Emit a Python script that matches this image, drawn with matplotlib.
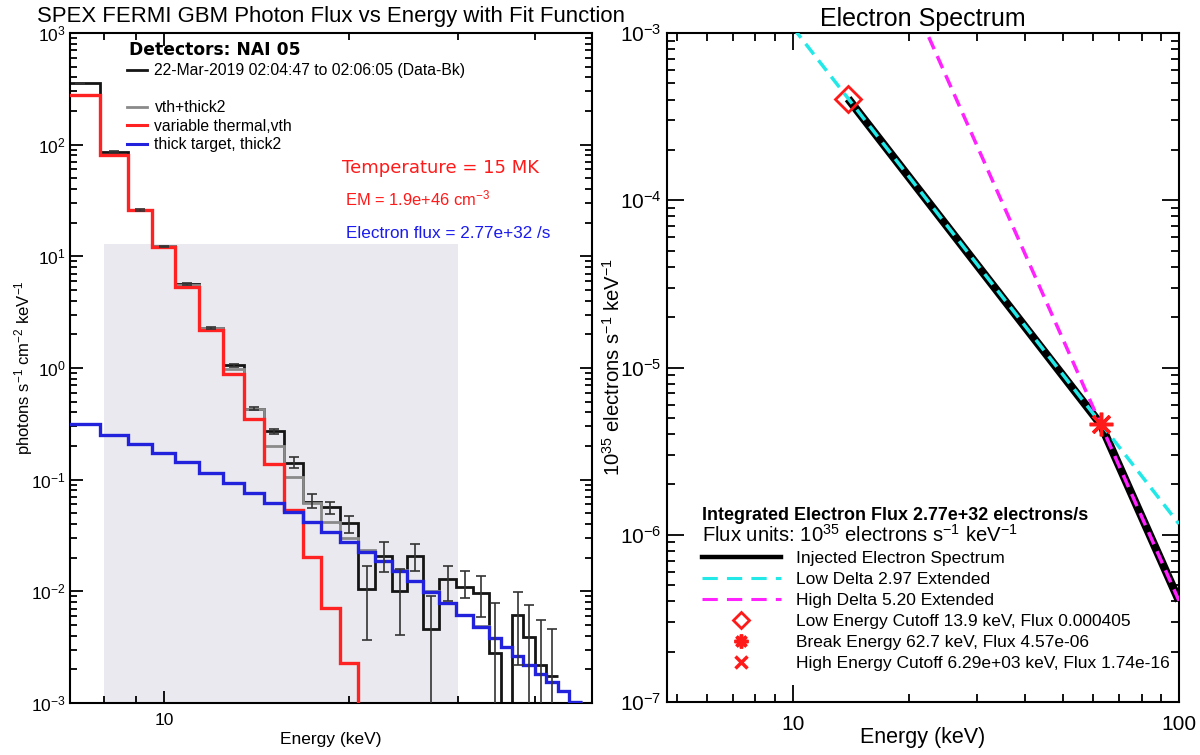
import numpy as np
import matplotlib
matplotlib.use("Agg")
import matplotlib.pyplot as plt
from matplotlib.lines import Line2D
from matplotlib.ticker import FixedLocator, FixedFormatter, NullFormatter, LogLocator

plt.rcParams["font.family"] = ["Liberation Sans", "DejaVu Sans"]
plt.rcParams["mathtext.default"] = "regular"
plt.rcParams["axes.unicode_minus"] = False

# ---------------- left panel: photon spectrum (keV bins) ----------------
edges = [6.8, 7.88, 8.73, 9.58, 10.44, 11.40, 12.47, 13.49, 14.55, 15.68,
         16.80, 17.98, 19.29, 20.67, 22.04, 23.42, 24.83, 26.29, 27.95, 29.79,
         31.74, 33.70, 35.25, 36.73, 38.27, 40.03, 41.70, 43.61, 45.45, 47.71]

# data - background (values below 1e-3 are off the plot)
data = [355, 86.5, 26.0, 12.3, 5.66, 2.28, 1.06, 0.433, 0.27, 0.141,
        0.0637, 0.0567, 0.0407, 0.0105, 0.0208, 0.0100, 0.0208, 0.00459, 0.01285, 0.01104,
        0.00975, 0.0028, 1e-5, 0.0062, 0.00393, 0.0022, 0.00174]
data_lo = [350, 85.5, 25.7, 12.15, 5.58, 2.24, 1.03, 0.42, 0.257, 0.126,
           0.056, 0.0497, 0.0335, 0.00366, 0.0148, 0.0041, 0.0153, 1e-5, 0.0082, 0.0088,
           0.00593, 1e-5, 1e-5, 0.0022, 1e-5, 1e-5, 1e-5]
data_hi = [360, 87.5, 26.3, 12.45, 5.74, 2.32, 1.09, 0.446, 0.283, 0.158,
           0.074, 0.0637, 0.047, 0.0167, 0.0276, 0.016, 0.0265, 0.0091, 0.0167, 0.0151,
           0.0138, 0.00784, 1e-5, 0.00996, 0.0076, 0.0055, 0.0046]

vth = [279, 81, 26.0, 12.2, 5.35, 2.19, 0.885, 0.35, 0.138, 0.0537,
       0.0202, 0.00716, 0.00228, 6e-4]
thick2 = [0.316, 0.252, 0.208, 0.173, 0.143, 0.114, 0.0935, 0.0757, 0.0624, 0.0512,
          0.0422, 0.0343, 0.0279, 0.0227, 0.0185, 0.0153, 0.0125, 0.00996, 0.00784, 0.00616,
          0.00484, 0.00381, 0.00316, 0.00261, 0.00220, 0.00183, 0.00153, 0.00127, 0.00103]
total = [279, 81.3, 26.2, 12.4, 5.49, 2.30, 0.98, 0.426, 0.200, 0.105,
         0.0624, 0.0415, 0.0302, 0.0233, 0.0187, 0.0154, 0.0125, 0.0100, 0.00785, 0.00617,
         0.00485, 0.00381, 0.00316, 0.00261, 0.00220, 0.00183, 0.00153, 0.00127, 0.00103]

fit_range = [8.0, 30.0]
fit_top = 12.9

# ---------------- right panel: electron spectrum ----------------
inj_e = [13.9, 62.7, 100.0]
inj_f = [4.05e-4, 4.57e-6, 4.03e-7]
low_ext_e = [10.0, 100.0]
low_ext_f = [1.08e-3, 1.16e-6]
high_ext_e = [10.0, 100.0]
high_ext_f = [6.4e-2, 4.03e-7]
cutoff_low = (13.9, 4.05e-4)
break_pt = (62.7, 4.57e-6)
cutoff_high = (6290.0, 1.74e-16)

W, H = 1200, 755
fig = plt.figure(figsize=(12, 7.55), dpi=100)


def fx(px):
    return px / W


def fy(py):
    return 1 - py / H


ax1 = fig.add_axes([fx(70), fy(703), fx(592) - fx(70), fy(33) - fy(703)])
ax2 = fig.add_axes([fx(667), fy(702), fx(1179) - fx(667), fy(33) - fy(702)])

# ----- left -----
ed = np.array(edges)
ax1.fill_between(fit_range, 1e-3, fit_top, color="#e9e9ef", lw=0, zorder=0)
ax1.stairs(data, ed[:len(data) + 1], baseline=None, color="#151515", lw=2.0, zorder=2)
ax1.stairs(total, ed, baseline=None, color="#8a8a8a", lw=2.0, zorder=3)
ax1.stairs(vth, ed[:len(vth) + 1], baseline=None, color="#ff2222", lw=2.4, zorder=4)
ax1.stairs(thick2, ed, baseline=None, color="#2222dd", lw=2.4, zorder=5)
cen = np.sqrt(ed[:len(data)] * ed[1:len(data) + 1])
d = np.array(data)
ax1.errorbar(cen, d, yerr=[d - np.array(data_lo), np.array(data_hi) - d], fmt="none",
             ecolor="#333333", elinewidth=1.2, capsize=3.5, capthick=1.2, zorder=6)

ax1.set_xscale("log")
ax1.set_yscale("log")
ax1.set_xlim(7.04, 49.5)
ax1.set_ylim(1e-3, 1e3)
ax1.xaxis.set_major_locator(FixedLocator([10]))
ax1.xaxis.set_major_formatter(FixedFormatter(["10"]))
ax1.xaxis.set_minor_locator(FixedLocator([8, 9, 20, 30, 40]))
ax1.xaxis.set_minor_formatter(NullFormatter())
ax1.yaxis.set_major_locator(LogLocator(base=10, numticks=20))
ax1.yaxis.set_minor_locator(LogLocator(base=10, subs=np.arange(2, 10), numticks=20))
ax1.yaxis.set_minor_formatter(NullFormatter())
ax1.tick_params(which="both", direction="in", top=True, right=True, width=1.3, labelsize=12.5)
ax1.tick_params(which="major", length=9)
ax1.tick_params(which="minor", length=5)
ax1.tick_params(axis="x", pad=7)
ax1.tick_params(axis="y", pad=3)
for s in ax1.spines.values():
    s.set_linewidth(1.5)
ax1.set_xlabel("Energy (keV)", fontsize=12.5, labelpad=3)
ax1.set_ylabel("photons s$^{-1}$ cm$^{-2}$ keV$^{-1}$", fontsize=12, labelpad=-3)
ax1.set_title("SPEX FERMI GBM Photon Flux vs Energy with Fit Function", fontsize=15.9, pad=8)

fig.text(fx(129), fy(50), "Detectors: NAI 05", family="DejaVu Sans", weight="bold",
         fontsize=12.3, va="center")
leg_a = ax1.legend([Line2D([], [], color="#151515", lw=2)],
                   ["22-Mar-2019 02:04:47 to 02:06:05 (Data-Bk)"],
                   loc="upper left", bbox_to_anchor=(fx(127), fy(63)), bbox_transform=fig.transFigure,
                   frameon=False, fontsize=11.3, handlelength=1.3, handletextpad=0.45,
                   borderpad=0, borderaxespad=0)
ax1.add_artist(leg_a)
ax1.legend([Line2D([], [], color="#8a8a8a", lw=2),
            Line2D([], [], color="#ff2222", lw=2.2),
            Line2D([], [], color="#2222dd", lw=2.2)],
           ["vth+thick2", "variable thermal,vth", "thick target, thick2"],
           loc="upper left", bbox_to_anchor=(fx(127), fy(100)), bbox_transform=fig.transFigure,
           frameon=False, fontsize=11.3, handlelength=1.3, handletextpad=0.45,
           labelspacing=0.23, borderpad=0, borderaxespad=0)

fig.text(fx(342), fy(168), "Temperature = 15 MK", family="DejaVu Sans", color="#ff1a1a",
         fontsize=13, va="center")
fig.text(fx(345), fy(198), "EM = 1.9e+46 cm$^{-3}$", color="#ff1a1a", fontsize=11.9, va="center")
fig.text(fx(346), fy(233), "Electron flux = 2.77e+32 /s", color="#1a1aee", fontsize=12.3,
         va="center")

# ----- right -----
ax2.plot(inj_e, inj_f, color="black", lw=6.0, solid_capstyle="butt", zorder=2)
ax2.plot(low_ext_e, low_ext_f, color="#22e8e8", lw=2.5, dashes=(3.8, 2.2), zorder=3)
ax2.plot(high_ext_e, high_ext_f, color="#ff22ff", lw=2.5, dashes=(3.8, 2.2), zorder=3)
ax2.plot([cutoff_low[0]], [cutoff_low[1]], "D", ms=13, mfc="none", mec="#ff1a1a", mew=2, zorder=5)
ax2.plot([break_pt[0]], [break_pt[1]], marker=(8, 2, 0), ms=17, color="#ff1a1a", mew=2.5, zorder=5)
ax2.plot([cutoff_high[0]], [cutoff_high[1]], "x", ms=12, color="#ff1a1a", mew=2.5, zorder=5)

ax2.set_xscale("log")
ax2.set_yscale("log")
ax2.set_xlim(4.72, 100)
ax2.set_ylim(1e-7, 1e-3)
ax2.xaxis.set_major_locator(FixedLocator([10, 100]))
ax2.xaxis.set_major_formatter(FixedFormatter(["10", "100"]))
ax2.xaxis.set_minor_locator(FixedLocator([5, 6, 7, 8, 9, 20, 30, 40, 50, 60, 70, 80, 90]))
ax2.xaxis.set_minor_formatter(NullFormatter())
ax2.yaxis.set_major_locator(LogLocator(base=10, numticks=20))
ax2.yaxis.set_minor_locator(LogLocator(base=10, subs=np.arange(2, 10), numticks=20))
ax2.yaxis.set_minor_formatter(NullFormatter())
ax2.tick_params(which="both", direction="in", top=True, right=True, width=1.3, labelsize=15)
ax2.tick_params(which="major", length=12)
ax2.tick_params(which="minor", length=6)
ax2.tick_params(axis="x", pad=9)
ax2.tick_params(axis="y", pad=4)
for s in ax2.spines.values():
    s.set_linewidth(1.5)
ax2.set_xlabel("Energy (keV)", fontsize=15.5, labelpad=-5)
ax2.set_ylabel("10$^{35}$ electrons s$^{-1}$ keV$^{-1}$", fontsize=14.6, labelpad=-3)
ax2.set_title("Electron Spectrum", fontsize=18, pad=5)

fig.text(fx(702), fy(515), "Integrated Electron Flux 2.77e+32 electrons/s", weight="bold",
         fontsize=12.9, va="center")
fig.text(fx(702), fy(535), "Flux units: 10$^{35}$ electrons s$^{-1}$ keV$^{-1}$", fontsize=14.6,
         va="center")
handles = [Line2D([], [], color="black", lw=3.2),
           Line2D([], [], color="#22e8e8", lw=2.2, dashes=(5, 3)),
           Line2D([], [], color="#ff22ff", lw=2.2, dashes=(5, 3)),
           Line2D([], [], ls="none", marker="D", ms=8, mfc="none", mec="#ff1a1a", mew=2),
           Line2D([], [], ls="none", marker=(8, 2, 0), ms=10, color="#ff1a1a", mew=2.5),
           Line2D([], [], ls="none", marker="x", ms=8, color="#ff1a1a", mew=2.5)]
labels = ["Injected Electron Spectrum", "Low Delta 2.97 Extended", "High Delta 5.20 Extended",
          "Low Energy Cutoff 13.9 keV, Flux 0.000405", "Break Energy 62.7 keV, Flux 4.57e-06",
          "High Energy Cutoff 6.29e+03 keV, Flux 1.74e-16"]
ax2.legend(handles, labels, loc="upper left", bbox_to_anchor=(fx(702), fy(551)),
           bbox_transform=fig.transFigure, frameon=False, fontsize=12.5, handlelength=4.55,
           handletextpad=0.86, labelspacing=0.34, borderpad=0, borderaxespad=0)

fig.savefig("out.png", dpi=100)
